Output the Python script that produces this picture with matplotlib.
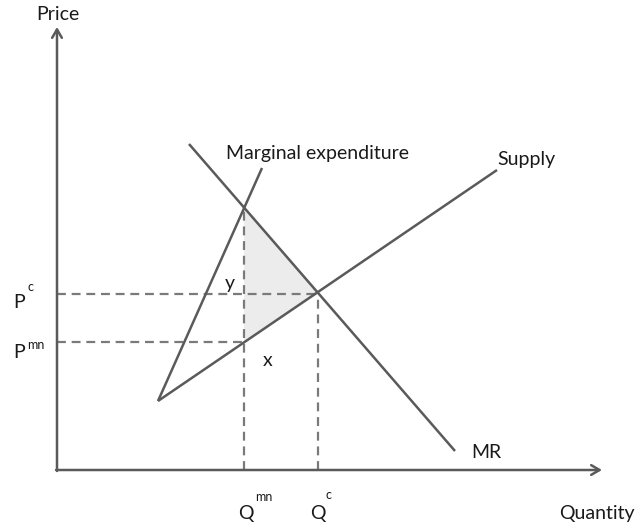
import matplotlib
matplotlib.use("Agg")
import matplotlib.pyplot as plt
import numpy as np

# Data (quantity, price) in chart units
supply_q = [10.1, 44.0]
supply_p = [6.9, 30.0]
me_q = [10.1, 20.5]
me_p = [6.9, 30.2]
mr_q = [13.2, 39.8]
mr_p = [32.6, 1.9]
Q_c, P_c = 26.1, 17.6
Q_mn, P_mn, P_me = 18.7, 12.8, 26.3
x_max, y_max = 54.5, 44.3

line_col = "#5a5a5a"
dash_col = "#7a7a7a"
font = "Lato"

fig = plt.figure(figsize=(6.42, 5.24), dpi=100)
ax = fig.add_axes([0, 0, 1, 1])
ax.set_xlim(-5.7, 58.5)
ax.set_ylim(-5.4, 47.0)
ax.axis("off")

# Shaded triangle
ax.fill([Q_mn, Q_c, Q_mn], [P_me, P_c, P_mn], color="#ececec", zorder=1, lw=0)

# Dashed guides
dkw = dict(color=dash_col, lw=1.6, ls=(0, (4, 2.6)), zorder=2)
ax.plot([0, Q_c], [P_c, P_c], **dkw)
ax.plot([0, Q_mn], [P_mn, P_mn], **dkw)
ax.plot([Q_mn, Q_mn], [0, P_me], **dkw)
ax.plot([Q_c, Q_c], [0, P_c], **dkw)

# Curves
lkw = dict(color=line_col, lw=1.8, solid_capstyle="butt", zorder=3)
ax.plot(supply_q, supply_p, **lkw)
ax.plot(me_q, me_p, **lkw)
ax.plot(mr_q, mr_p, **lkw)

# Axes with arrows
arrow = dict(arrowstyle="->,head_length=0.6,head_width=0.35",
             color=line_col, lw=1.8, shrinkA=0, shrinkB=0)
ax.annotate("", xy=(0, y_max), xytext=(0, -0.1), arrowprops=arrow)
ax.annotate("", xy=(x_max, 0), xytext=(-0.1, 0), arrowprops=arrow)

tcol = "#1a1a1a"
fs = 14
sfs = 9
ax.text(0.1, 45.5, "Price", ha="center", va="center", fontsize=fs, family=font, color=tcol)
ax.text(57.8, -4.3, "Quantity", ha="right", va="center", fontsize=fs, family=font, color=tcol)
ax.text(16.9, 31.7, "Marginal expenditure", ha="left", va="center", fontsize=fs, family=font, color=tcol)
ax.text(44.0, 31.0, "Supply", ha="left", va="center", fontsize=fs, family=font, color=tcol)
ax.text(41.4, 1.8, "MR", ha="left", va="center", fontsize=fs, family=font, color=tcol)
ax.text(17.3, 18.7, "y", ha="center", va="center", fontsize=fs, family=font, color=tcol)
ax.text(21.1, 10.9, "x", ha="center", va="center", fontsize=fs, family=font, color=tcol)

# Price/quantity labels with superscripts
ax.text(-3.2, 16.7, "P", ha="right", va="center", fontsize=fs, family=font, color=tcol)
ax.text(-3.0, 18.3, "c", ha="left", va="center", fontsize=sfs, family=font, color=tcol)
ax.text(-3.2, 11.7, "P", ha="right", va="center", fontsize=fs, family=font, color=tcol)
ax.text(-3.0, 12.5, "mn", ha="left", va="center", fontsize=sfs, family=font, color=tcol)
ax.text(18.9, -4.3, "Q", ha="center", va="center", fontsize=fs, family=font, color=tcol)
ax.text(19.8, -2.7, "mn", ha="left", va="center", fontsize=sfs, family=font, color=tcol)
ax.text(26.05, -4.3, "Q", ha="center", va="center", fontsize=fs, family=font, color=tcol)
ax.text(26.8, -2.5, "c", ha="left", va="center", fontsize=sfs, family=font, color=tcol)

fig.savefig("out.png", dpi=100, facecolor="white")
